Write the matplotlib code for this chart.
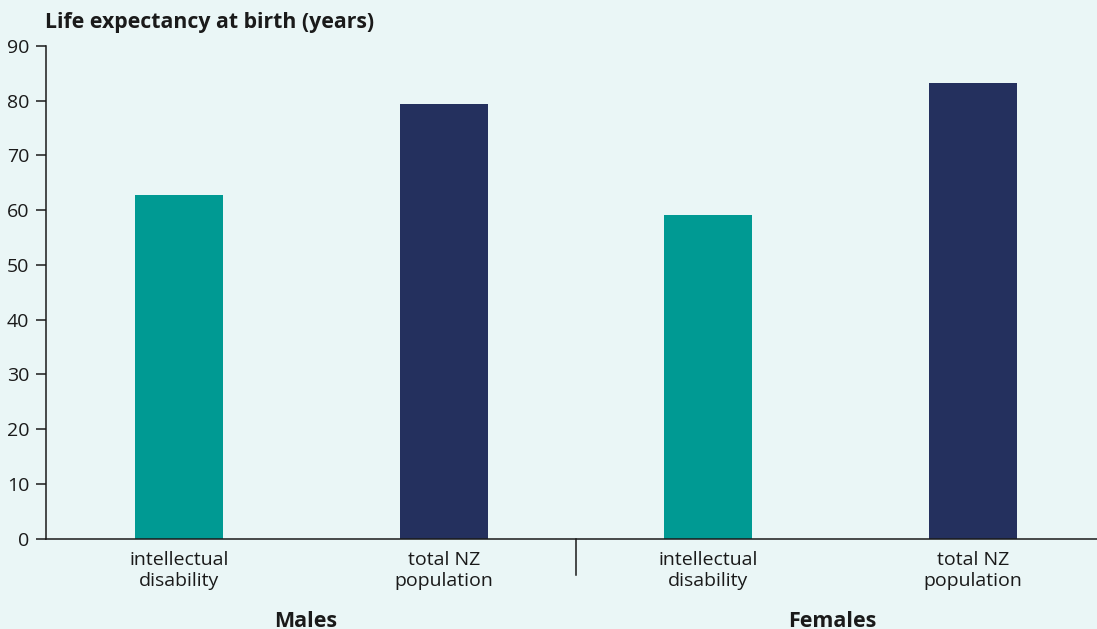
import numpy as np
import matplotlib.pyplot as plt
from matplotlib.transforms import blended_transform_factory

plt.rcParams['font.family'] = ['Open Sans', 'DejaVu Sans']

## Data: life expectancy at birth (years)
groups = ['Males', 'Females']
categories = ['intellectual\ndisability', 'total NZ\npopulation',
              'intellectual\ndisability', 'total NZ\npopulation']
values = [62.8, 79.4, 59.1, 83.3]
bar_colours = ['#009A93', '#24305E', '#009A93', '#24305E']

bg = '#EAF6F6'
ink = '#1a1a1a'

fig = plt.figure(figsize=(10.97, 6.29), dpi=100, facecolor=bg)
ax = fig.add_axes([46/1097, (629-538.5)/629, 1 - 46/1097, 492.5/629])
ax.set_facecolor(bg)

x = np.arange(len(values))
ax.bar(x, values, width=0.333, color=bar_colours, zorder=2)

ax.set_xlim(-0.5025, 3.468)
ax.set_ylim(0, 90)
ax.set_yticks(np.arange(0, 91, 10))
ax.set_xticks(x)
ax.set_xticklabels(categories, fontsize=14, color=ink, linespacing=1.2)
ax.tick_params(axis='x', length=0, pad=9)
ax.tick_params(axis='y', length=7, width=1.1, color=ink, labelsize=14,
               labelcolor=ink, pad=5)

for side in ['top', 'right']:
    ax.spines[side].set_visible(False)
for side in ['left', 'bottom']:
    ax.spines[side].set_color(ink)
    ax.spines[side].set_linewidth(1.1)

## Divider between the two groups, below the axis
trans = blended_transform_factory(ax.transData, ax.transAxes)
ax.plot([1.5, 1.5], [0, -36.5/492.5], color=ink, lw=1.1,
        transform=trans, clip_on=False)

## Group names
for g, gx in zip(groups, [0.48, 2.467]):
    ax.text(gx, -0.148, g, transform=trans, ha='center',
            va='top', fontsize=15.5, fontweight='bold', color=ink)

fig.text(45/1097, 1 - 28/629, 'Life expectancy at birth (years)',
         fontsize=15.3, fontweight='bold', color=ink, ha='left',
         va='baseline')

fig.savefig('out.png', dpi=100, facecolor=bg)
